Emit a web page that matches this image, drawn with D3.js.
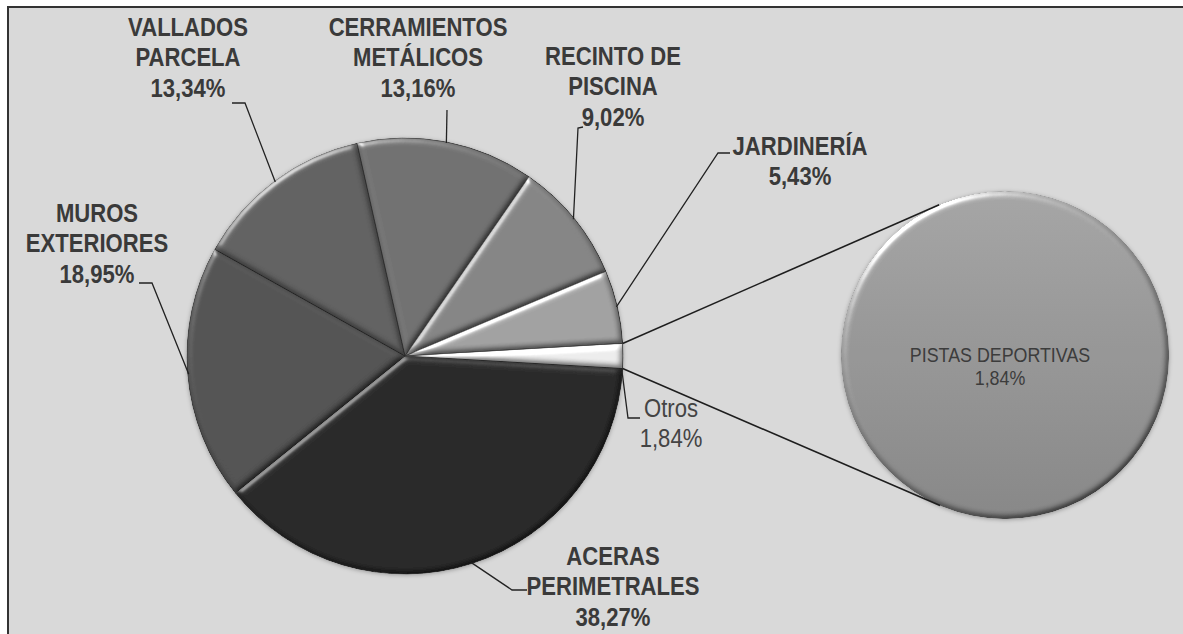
<!DOCTYPE html>
<html>
<head>
<meta charset="utf-8">
<script src="https://cdn.jsdelivr.net/npm/d3@7"></script>
<style>
    html, body { margin: 0; padding: 0; background: #fff; }
    svg { display: block; }
    .lbl { font-family: "Liberation Sans", Arial, sans-serif; fill: #3a3a3a; }
</style>
</head>
<body>
<div id="chart"></div>
<script>
// data
var categories = ['ACERAS PERIMETRALES', 'MUROS EXTERIORES', 'VALLADOS PARCELA', 'CERRAMIENTOS METÁLICOS', 'RECINTO DE PISCINA', 'JARDINERÍA', 'Otros'];
var labelLines = [['ACERAS', 'PERIMETRALES'], ['MUROS', 'EXTERIORES'], ['VALLADOS', 'PARCELA'], ['CERRAMIENTOS', 'METÁLICOS'], ['RECINTO DE', 'PISCINA'], ['JARDINERÍA'], ['Otros']];
var values = [38.27, 18.95, 13.34, 13.16, 9.02, 5.43, 1.84];
var shades = ['#2b2b2b', '#535353', '#626262', '#717171', '#858585', '#a2a2a2', '#ededed'];

var secondCategories = ['PISTAS DEPORTIVAS'];
var secondValues = [1.84];

var width = 1183, height = 634;
var cx = 405, cy = 356, radius = 218;
var cx2 = 1005, cy2 = 355, radius2 = 164;
var narrow = 0.85; // no Arial Narrow here, squeeze Liberation Sans instead

// label placement: centre x, first baseline, leader bend + end, where on the slice the leader starts
var labelLayout = [
    {x: 613, y: 565, bend: [512, 590], end: [527, 590], at: 'mid', bold: true},
    {x: 97, y: 222, bend: [152, 283], end: [139, 283], at: 'mid', bold: true},
    {x: 188, y: 36, bend: [245, 103], end: [232, 103], at: 'mid', bold: true},
    {x: 418, y: 36, bend: [447, 110], end: [447, 110], at: 'mid', bold: true},
    {x: 613, y: 65, bend: [578, 128], end: [583, 127], at: 'mid', bold: true},
    {x: 800, y: 155, bend: [718, 153], end: [730, 153], at: 'mid', bold: true},
    {x: 671, y: 417, bend: [628, 418], end: [640, 418], at: 'end', bold: false}
];
var lineHeight = 30.5;

var fmt = d3.formatLocale({decimal: ',', thousands: '.', grouping: [3], currency: ['', '€']}).format('.2f');
var pct = function (v) { return fmt(v) + '%'; };

var svg = d3.select('#chart').append('svg')
    .attr('width', width)
    .attr('height', height);

var defs = svg.append('defs');

// soft round bevel like the office chart
var bevel = defs.append('filter')
    .attr('id', 'bevel')
    .attr('color-interpolation-filters', 'sRGB')
    .attr('x', '-10%').attr('y', '-10%')
    .attr('width', '120%').attr('height', '120%');
bevel.append('feGaussianBlur').attr('in', 'SourceAlpha').attr('stdDeviation', 3).attr('result', 'blur');
var spec = bevel.append('feSpecularLighting')
    .attr('in', 'blur')
    .attr('surfaceScale', 3)
    .attr('specularConstant', 0.9)
    .attr('specularExponent', 30)
    .attr('lighting-color', '#ffffff')
    .attr('result', 'spec');
spec.append('feDistantLight').attr('azimuth', 235).attr('elevation', 30);
bevel.append('feComposite').attr('in', 'spec').attr('in2', 'SourceAlpha').attr('operator', 'in').attr('result', 'specIn');
var diff = bevel.append('feDiffuseLighting')
    .attr('in', 'blur')
    .attr('surfaceScale', 3)
    .attr('diffuseConstant', 1)
    .attr('lighting-color', '#ffffff')
    .attr('result', 'diff');
diff.append('feDistantLight').attr('azimuth', 235).attr('elevation', 60);
bevel.append('feComposite').attr('in', 'SourceGraphic').attr('in2', 'diff')
    .attr('operator', 'arithmetic').attr('k1', 1.15).attr('k2', 0).attr('k3', 0).attr('k4', 0)
    .attr('result', 'shaded');
bevel.append('feComposite').attr('in', 'specIn').attr('in2', 'shaded')
    .attr('operator', 'arithmetic').attr('k1', 0).attr('k2', 0.45).attr('k3', 1).attr('k4', 0)
    .attr('result', 'lit');
bevel.append('feComposite').attr('in', 'lit').attr('in2', 'SourceAlpha').attr('operator', 'in');

var shadow = defs.append('filter')
    .attr('id', 'halo')
    .attr('x', '-10%').attr('y', '-10%')
    .attr('width', '120%').attr('height', '120%');
shadow.append('feDropShadow').attr('dx', 0).attr('dy', 1).attr('stdDeviation', 2)
    .attr('flood-color', '#000').attr('flood-opacity', 0.3);

var grad = defs.append('linearGradient')
    .attr('id', 'secondFill')
    .attr('x1', 0).attr('y1', 0).attr('x2', 0).attr('y2', 1);
grad.append('stop').attr('offset', '0%').attr('stop-color', '#a6a6a6');
grad.append('stop').attr('offset', '100%').attr('stop-color', '#878787');

// chart area
svg.append('rect')
    .attr('x', 8)
    .attr('y', 7)
    .attr('width', width)
    .attr('height', height)
    .style('fill', '#d9d9d9')
    .style('stroke', '#333')
    .style('stroke-width', 2);

var dataset = categories.map(function (c, i) {
    return {name: c, value: values[i], lines: labelLines[i], color: shades[i], layout: labelLayout[i]};
});

// "Otros" slice sits centred on 3 o'clock
var otherShare = values[values.length - 1] / d3.sum(values);
var startAngle = Math.PI / 2 + otherShare * Math.PI;

var pie = d3.pie()
    .sort(null)
    .startAngle(startAngle)
    .endAngle(startAngle + Math.PI * 2)
    .value(function (d) { return d.value; });

var arc = d3.arc().innerRadius(0).outerRadius(radius);
var arcs = pie(dataset);

var rimPoint = function (a, r) {
    return [cx + r * Math.sin(a), cy - r * Math.cos(a)];
};

// joining lines to the second pie
var other = arcs[arcs.length - 1];
var pTop = rimPoint(other.startAngle, radius);
var pBot = rimPoint(other.endAngle, radius);
var tangent = function (p, sign) {
    var dx = p[0] - cx2, dy = p[1] - cy2;
    var d = Math.sqrt(dx * dx + dy * dy);
    var base = Math.atan2(dy, dx);
    var a = base + sign * Math.acos(radius2 / d);
    return [cx2 + radius2 * Math.cos(a), cy2 + radius2 * Math.sin(a)];
};
var joins = [[pTop, tangent(pTop, 1)], [pBot, tangent(pBot, -1)]];

var pieG = svg.append('g')
    .attr('class', 'mainPie')
    .attr('transform', 'translate(' + cx + ',' + cy + ')')
    .attr('filter', 'url(#halo)');

pieG.selectAll('path.slice')
    .data(arcs)
    .enter().append('path')
    .attr('class', 'slice')
    .attr('d', arc)
    .style('fill', function (d) { return d.data.color; })
    .style('stroke', '#333')
    .style('stroke-width', 0.8)
    .attr('filter', 'url(#bevel)');

// second pie (just one slice)
var secondPie = d3.pie().sort(null).value(function (d) { return d; });
var arc2 = d3.arc().innerRadius(0).outerRadius(radius2);
var secondG = svg.append('g')
    .attr('transform', 'translate(' + cx2 + ',' + cy2 + ')')
    .attr('filter', 'url(#halo)');
secondG.selectAll('path')
    .data(secondPie(secondValues))
    .enter().append('path')
    .attr('d', arc2)
    .style('fill', 'url(#secondFill)')
    .attr('filter', 'url(#bevel)');

svg.selectAll('line.join')
    .data(joins)
    .enter().append('line')
    .attr('class', 'join')
    .attr('x1', function (d) { return d[0][0]; })
    .attr('y1', function (d) { return d[0][1]; })
    .attr('x2', function (d) { return d[1][0]; })
    .attr('y2', function (d) { return d[1][1]; })
    .style('stroke', '#1e1e1e')
    .style('stroke-width', 1.6);

// leader lines
var leader = d3.line();
svg.selectAll('path.leader')
    .data(arcs)
    .enter().append('path')
    .attr('class', 'leader')
    .attr('d', function (d) {
        var L = d.data.layout;
        var a = L.at === 'end' ? d.endAngle : (d.startAngle + d.endAngle) / 2;
        return leader([rimPoint(a, radius - 1), L.bend, L.end]);
    })
    .style('fill', 'none')
    .style('stroke', '#222')
    .style('stroke-width', 1.3);

// labels
var labels = svg.selectAll('text.sliceLabel')
    .data(arcs)
    .enter().append('text')
    .attr('class', 'lbl sliceLabel')
    .attr('text-anchor', 'middle')
    .attr('transform', function (d) { return 'translate(' + d.data.layout.x + ',0) scale(' + narrow + ',1)'; })
    .style('font-size', '26px')
    .style('font-weight', function (d) { return d.data.layout.bold ? 'bold' : 'normal'; })
    .style('fill', function (d) { return d.data.layout.bold ? '#3a3a3a' : '#444'; });

labels.selectAll('tspan')
    .data(function (d) {
        return d.data.lines.concat([pct(d.data.value)]).map(function (t) {
            return {t: t, L: d.data.layout};
        });
    })
    .enter().append('tspan')
    .attr('x', 0)
    .attr('y', function (d, i) { return d.L.y + i * lineHeight; })
    .text(function (d) { return d.t; });

var secondLabel = svg.append('text')
    .attr('class', 'lbl')
    .attr('text-anchor', 'middle')
    .attr('transform', 'translate(' + (cx2 - 5) + ',0) scale(' + narrow + ',1)')
    .style('font-size', '21px')
    .style('fill', '#3c3c3c');
secondLabel.selectAll('tspan')
    .data([secondCategories[0], pct(secondValues[0])])
    .enter().append('tspan')
    .attr('x', 0)
    .attr('y', function (d, i) { return 362 + i * 23; })
    .text(function (d) { return d; });
</script>
</body>
</html>
